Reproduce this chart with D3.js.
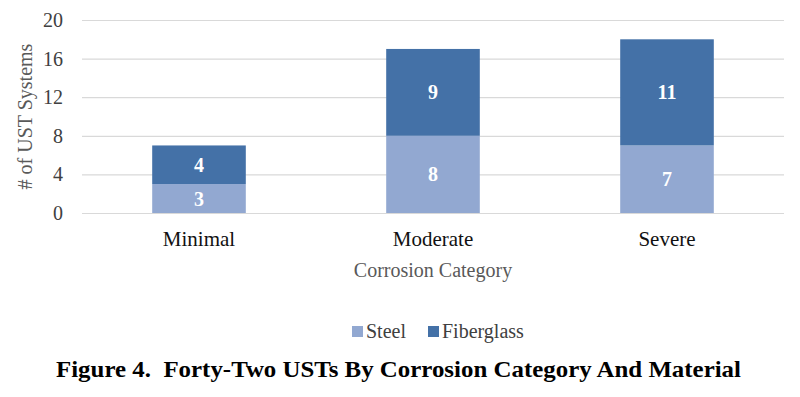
<!DOCTYPE html>
<html>
<head>
<meta charset="utf-8">
<script src="https://cdn.jsdelivr.net/npm/d3@7"></script>
<style>
  body { margin: 0; background: #fff; }
  text { font-family: "Liberation Serif", "Times New Roman", serif; }
</style>
</head>
<body>
<script>
const categories = ['Minimal', 'Moderate', 'Severe']
const seriesNames = ['Steel', 'Fiberglass']
const steel = [3, 8, 7]
const fiberglass = [4, 9, 11]
const yTicks = [0, 4, 8, 12, 16, 20]
const colors = ['#92a8d1', '#4471a7']

const measurements = { width: 800, height: 397 }
const plot = { left: 82, right: 784, top: 20, bottom: 213 }

const svg = d3.select('body').append('svg')
    .attr('width', measurements.width)
    .attr('height', measurements.height)

// stacked rows built from the arrays
const rows = categories.map((c, i) => ({ cat: c, Steel: steel[i], Fiberglass: fiberglass[i] }))
const stacked = d3.stack().keys(seriesNames)(rows)

const x = d3.scaleBand()
    .domain(categories)
    .range([plot.left, plot.right])
    .paddingInner(0.6)
    .paddingOuter(0.3)

const y = d3.scaleLinear()
    .domain([0, 20])
    .range([plot.bottom, plot.top])

// gridlines + tick labels
const yAxis = svg.append('g')
    .attr('transform', `translate(${plot.left},0)`)
    .call(d3.axisLeft(y).tickValues(yTicks).tickSize(-(plot.right - plot.left)).tickPadding(19))
yAxis.select('.domain').remove()
yAxis.selectAll('line').attr('stroke', '#d9d9d9').attr('stroke-width', 1.2)
yAxis.selectAll('text')
    .attr('fill', '#404040')
    .style('font-size', '20px')

// bars
const layers = svg.append('g').selectAll('g')
    .data(stacked)
    .enter()
    .append('g')
    .attr('fill', (d, i) => colors[i])

layers.selectAll('rect')
    .data(d => d)
    .enter()
    .append('rect')
    .attr('x', d => x(d.data.cat))
    .attr('y', d => y(d[1]))
    .attr('width', x.bandwidth())
    .attr('height', d => y(d[0]) - y(d[1]))

// value labels
layers.selectAll('text')
    .data(d => d.map(v => ({ v, key: d.key })))
    .enter()
    .append('text')
    .attr('x', d => x(d.v.data.cat) + x.bandwidth() / 2)
    .attr('y', d => (y(d.v[0]) + y(d.v[1])) / 2)
    .attr('dy', '0.35em')
    .attr('text-anchor', 'middle')
    .attr('fill', '#fff')
    .style('font-size', '20px')
    .style('font-weight', 'bold')
    .text(d => d.v.data[d.key])

// category labels
svg.append('g')
    .selectAll('text')
    .data(categories)
    .enter()
    .append('text')
    .attr('x', d => x(d) + x.bandwidth() / 2)
    .attr('y', 246)
    .attr('text-anchor', 'middle')
    .attr('fill', '#111')
    .style('font-size', '21px')
    .text(d => d)

// axis titles
svg.append('text')
    .attr('x', (plot.left + plot.right) / 2)
    .attr('y', 277)
    .attr('text-anchor', 'middle')
    .attr('fill', '#595959')
    .style('font-size', '20px')
    .text('Corrosion Category')

svg.append('text')
    .attr('transform', `translate(32,${(plot.top + plot.bottom) / 2}) rotate(-90)`)
    .attr('text-anchor', 'middle')
    .attr('fill', '#595959')
    .style('font-size', '20px')
    .text('# of UST Systems')

// legend
const legend = svg.append('g')
const legendX = [352, 428]
seriesNames.forEach((s, i) => {
    legend.append('rect')
        .attr('x', legendX[i])
        .attr('y', 326)
        .attr('width', 11)
        .attr('height', 11)
        .attr('fill', colors[i])
    legend.append('text')
        .attr('x', legendX[i] + 14)
        .attr('y', 338)
        .attr('fill', '#404040')
        .style('font-size', '20px')
        .text(s)
})

// figure caption
svg.append('text')
    .attr('x', 56)
    .attr('y', 377)
    .attr('textLength', 685)
    .attr('lengthAdjust', 'spacingAndGlyphs')
    .attr('fill', '#000')
    .style('font-size', '23px')
    .style('font-weight', 'bold')
    .style('white-space', 'pre')
    .text('Figure 4.  Forty-Two USTs By Corrosion Category And Material')
</script>
</body>
</html>
